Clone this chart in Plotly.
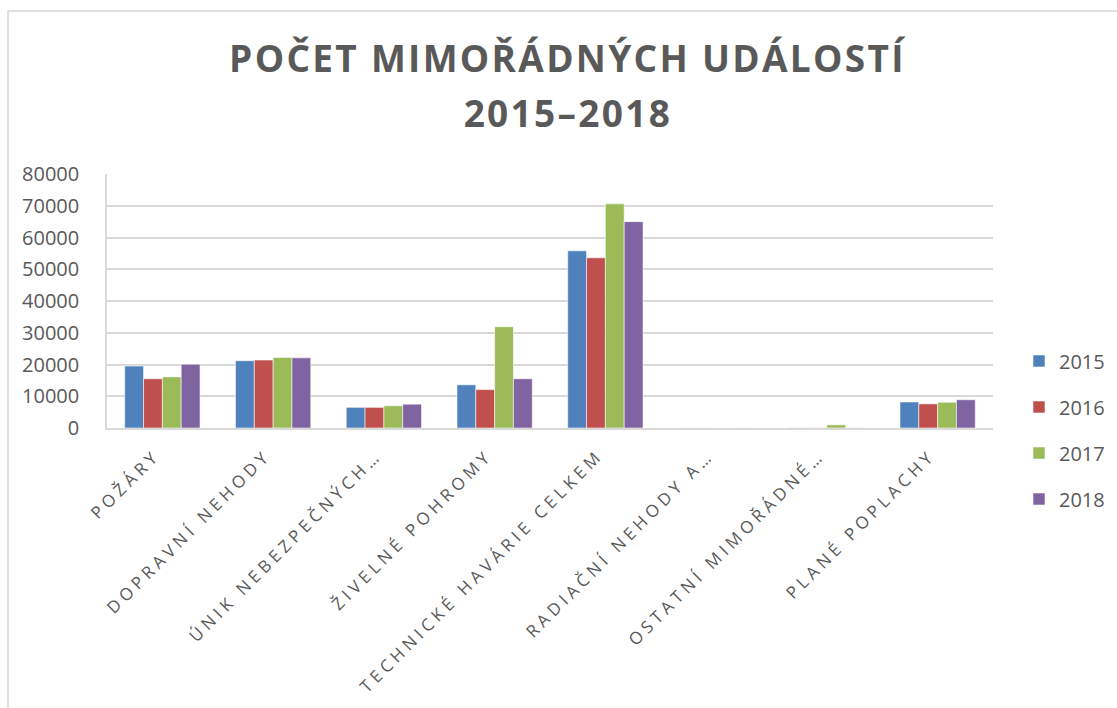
import plotly.graph_objects as go

categories = ["POŽÁRY", "DOPRAVNÍ NEHODY", "ÚNIK NEBEZPEČNÝCH…", "ŽIVELNÉ POHROMY",
              "TECHNICKÉ HAVÁRIE CELKEM", "RADIAČNÍ NEHODY A…", "OSTATNÍ MIMOŘÁDNÉ…", "PLANÉ POPLACHY"]
years = ["2015", "2016", "2017", "2018"]
v2015 = [19500, 21200, 6500, 13600, 55800, 20, 50, 8200]
v2016 = [15500, 21400, 6500, 12100, 53600, 20, 50, 7600]
v2017 = [16100, 22200, 7000, 31900, 70600, 20, 1000, 8100]
v2018 = [20100, 22100, 7500, 15500, 65000, 20, 50, 8900]
series = [v2015, v2016, v2017, v2018]
colors = ["#4F81BD", "#C0504D", "#9BBB59", "#8064A2"]
title_line1 = "POČET MIMOŘÁDNÝCH UDÁLOSTÍ"
title_line2 = "2015–2018"

fig = go.Figure()
for name, vals, col in zip(years, series, colors):
    fig.add_trace(go.Bar(
        x=categories, y=vals, name=name, legendgroup=name,
        marker=dict(color=col, line=dict(color="rgba(255,255,255,0.55)", width=1)),
    ))

W, H = 1117, 708
L, R, T, B = 107, 124, 174, 280
pw, ph = W - L - R, H - T - B

def px_x(x):
    return (x - L) / pw

def px_y(y):
    return (H - B - y) / ph

fig.update_layout(
    width=W, height=H,
    margin=dict(l=L, r=R, t=T, b=B, autoexpand=False),
    paper_bgcolor="white", plot_bgcolor="white",
    barmode="group", bargap=0.32, bargroupgap=0,
    font=dict(family="Open Sans", color="#595959"),
    showlegend=True,
    legend=dict(
        x=px_x(1019), y=px_y(430), xanchor="left", yanchor="middle",
        font=dict(size=20, color="#595959", family="Open Sans"),
        traceorder="grouped", tracegroupgap=17,
        bgcolor="rgba(0,0,0,0)",
    ),
    xaxis=dict(
        tickangle=-45, tickfont=dict(size=17, color="#595959", family="Open Sans"),
        showline=True, linecolor="#d9d9d9", linewidth=1.5,
        ticks="", showgrid=False, ticklabelstandoff=9, ticklabelshift=-7,
    ),
    yaxis=dict(
        range=[0, 80000], dtick=10000, tickformat="d",
        tickfont=dict(size=20, color="#595959", family="Open Sans"),
        showgrid=True, gridcolor="#d9d9d9", gridwidth=1.5,
        showline=True, linecolor="#d9d9d9", linewidth=1.5,
        zeroline=False, ticks="", ticklabelstandoff=22,
    ),
    annotations=[
        dict(text="<b>" + title_line1 + "</b>", x=px_x(568), y=px_y(58), xref="paper", yref="paper",
             xanchor="center", yanchor="middle", showarrow=False,
             font=dict(size=37, color="#595959", family="Open Sans")),
        dict(text="<b>" + title_line2 + "</b>", x=px_x(568), y=px_y(112), xref="paper", yref="paper",
             xanchor="center", yanchor="middle", showarrow=False,
             font=dict(size=37, color="#595959", family="Open Sans")),
    ],
    shapes=[
        dict(type="line", xref="paper", yref="paper", x0=px_x(8), x1=px_x(8), y0=px_y(11), y1=px_y(720),
             line=dict(color="#e0e0e0", width=2)),
        dict(type="line", xref="paper", yref="paper", x0=px_x(8), x1=px_x(1130), y0=px_y(11), y1=px_y(11),
             line=dict(color="#e0e0e0", width=2)),
    ],
)

post = """
document.body.style.margin='0';
document.querySelectorAll('.xtick text').forEach(function(t){t.style.letterSpacing='4.3px';});
document.querySelectorAll('.annotation-text').forEach(function(t){t.style.letterSpacing='2.3px';});
"""
fig.write_html("out.html", post_script=post, config={"displayModeBar": False})
